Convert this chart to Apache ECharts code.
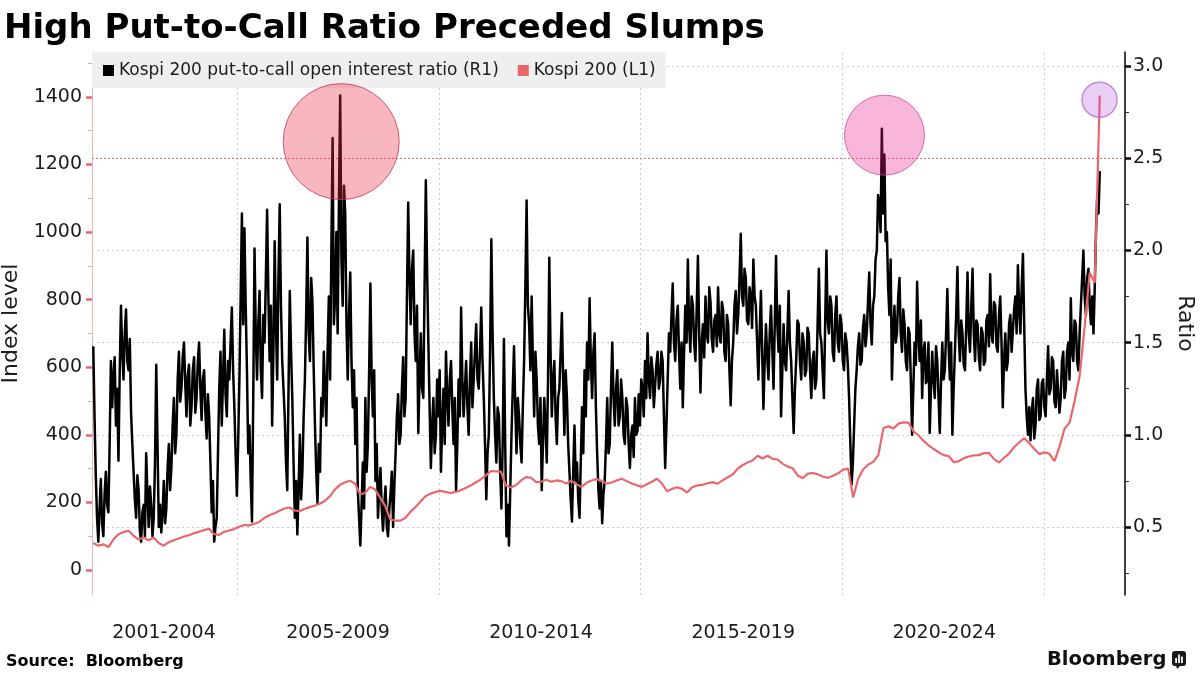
<!DOCTYPE html>
<html>
<head>
<meta charset="utf-8">
<title>High Put-to-Call Ratio Preceded Slumps</title>
<script src="https://cdn.jsdelivr.net/npm/echarts@6/dist/echarts.min.js"></script>
<style>
  html, body { margin: 0; padding: 0; background: #fff; }
  #chart { width: 1200px; height: 675px; }
</style>
</head>
<body>
<div id="chart"></div>
<script>
// Kospi 200 put-to-call ratio vs index level

const ratioName = 'Kospi 200 put-to-call open interest ratio (R1)';
const kospiName = 'Kospi 200 (L1)';

// x axis: period blocks (decimal years)
const periodLabels = ['2001-2004', '2005-2009', '2010-2014', '2015-2019', '2020-2024'];
const periodCenters = [2003.19, 2007.5, 2012.53, 2017.54, 2022.52];
const periodBreaks = [2005, 2010, 2015, 2020, 2025];

// y axes
const indexTicks = [0, 200, 400, 600, 800, 1000, 1200, 1400];
const indexMinorTicks = [100, 300, 500, 700, 900, 1100, 1300, 1500];
const ratioTicks = [0.5, 1.0, 1.5, 2.0, 2.5, 3.0];
const ratioMinorTicks = [0.25, 0.75, 1.25, 1.75, 2.25, 2.75];
const ratioGrid = [0.5, 1.0, 1.5, 2.0, 3.0];
const ratioAlert = 2.5;

// both series run evenly over this span
const seriesStart = 2001.4375;
const seriesEnd = 2026.375;

// put-to-call ratio, ~2 readings a week, by block
const ratio2001_2004 = [
  1.48, 1.10, 0.78, 0.55, 0.42, 0.60, 0.76, 0.52, 0.45, 0.68, 0.80, 0.62, 0.58, 0.95, 1.40, 1.15, 1.32, 1.42, 1.05, 1.25,
  0.86, 1.35, 1.70, 1.45, 1.30, 1.55, 1.68, 1.40, 1.35, 1.52, 1.12, 0.95, 0.80, 0.65, 0.55, 0.78, 0.70, 0.48, 0.42, 0.58,
  0.62, 0.45, 0.90, 0.68, 0.50, 0.72, 0.62, 0.45, 0.55, 0.85, 1.38, 0.95, 0.50, 0.62, 0.47, 0.58, 0.75, 0.52, 0.60, 0.82,
  0.95, 0.70, 0.82, 1.05, 1.20, 0.90, 1.00, 1.30, 1.45, 1.18, 1.25, 1.42, 1.50, 1.28, 1.10, 1.32, 1.38, 1.05, 1.15, 1.35,
  1.42, 1.12, 1.20, 1.40, 1.50, 1.25, 1.08, 1.30, 1.35, 1.12, 0.98, 1.22, 1.10, 0.85, 0.58, 0.75, 0.42, 0.50, 0.55, 0.90,
  1.25, 1.45, 1.05, 1.30, 1.57, 1.22, 1.10, 1.40, 1.30, 1.50, 1.69, 1.35, 1.15, 0.90
];
const ratio2005_2009 = [
  0.67, 0.95, 1.30, 1.75, 2.20, 1.60, 2.12, 1.70, 1.35, 0.90, 1.05, 0.75, 0.53, 1.20, 2.01, 1.55, 1.30, 1.60, 1.78, 1.35,
  1.20, 1.65, 1.50, 1.85, 2.22, 1.75, 1.40, 1.70, 1.05, 1.45, 2.05, 1.60, 1.30, 1.85, 2.25, 1.70, 1.40, 1.25, 1.10, 0.85,
  0.70, 1.25, 1.78, 1.45, 1.20, 0.85, 0.55, 0.75, 0.46, 0.72, 1.00, 0.65, 0.80, 1.10, 1.30, 1.65, 2.07, 1.55, 1.40, 1.85,
  1.72, 1.35, 1.05, 0.80, 0.63, 0.95, 0.80, 1.20, 1.10, 1.45, 1.25, 1.05, 1.45, 1.75, 1.30, 2.00, 2.61, 1.60, 1.75, 2.10,
  1.55, 2.25, 2.84, 1.95, 1.70, 2.35, 2.20, 1.60, 1.30, 1.65, 1.88, 1.40, 1.15, 1.35, 0.95, 1.20, 0.70, 0.55, 0.40, 0.62,
  0.85, 0.60, 1.20, 0.80, 0.95, 1.35, 1.82, 1.30, 1.10, 1.35, 0.75, 0.95, 0.55, 0.70, 0.82, 0.60, 0.48, 0.62, 0.72, 0.50,
  0.45, 0.60, 0.68, 0.80, 0.50, 0.72, 0.90, 1.10, 1.22, 0.95, 1.00, 1.25, 1.42, 1.10, 1.20, 1.75, 2.26, 1.85, 1.60, 1.90,
  2.00, 1.55, 1.40, 1.70, 1.01, 1.30, 1.55, 1.25, 1.20, 1.80, 2.38, 1.90, 1.50, 1.15, 0.82, 1.05, 1.20, 0.90, 1.00, 1.30
];
const ratio2010_2014 = [
  1.10, 1.35, 0.80, 1.05, 1.25, 0.95, 1.45, 1.20, 1.05, 1.30, 1.40, 1.15, 0.95, 1.20, 0.70, 0.95, 1.30, 1.10, 1.69, 1.30,
  1.10, 1.25, 1.40, 1.15, 1.00, 1.30, 1.50, 1.15, 1.30, 1.45, 1.60, 1.30, 1.25, 1.45, 1.69, 1.40, 1.20, 0.95, 0.65, 0.90,
  1.00, 1.45, 2.06, 1.55, 1.20, 1.00, 0.85, 1.15, 1.10, 0.80, 0.60, 0.95, 1.52, 0.95, 0.45, 0.62, 0.40, 0.70, 1.00, 1.25,
  1.48, 1.15, 0.90, 1.20, 1.10, 0.95, 0.85, 1.15, 1.40, 1.80, 2.27, 1.70, 1.60, 1.35, 1.75, 1.40, 1.10, 1.45, 1.30, 1.05,
  0.95, 1.20, 0.70, 0.95, 1.20, 1.05, 0.85, 1.30, 1.96, 1.45, 1.10, 1.30, 1.40, 1.10, 0.95, 1.20, 1.25, 1.45, 1.66, 1.30,
  1.00, 1.35, 1.20, 0.95, 0.80, 0.65, 0.53, 0.80, 1.05, 0.75, 0.85, 0.65, 0.55, 0.85, 1.15, 0.90, 1.35, 1.10, 1.50, 1.30,
  1.74, 1.40, 1.20, 1.45, 1.55, 1.15, 0.90, 0.70, 0.60, 0.75, 0.52, 0.68, 0.75, 0.95, 1.20, 0.90, 0.95, 1.25, 1.50, 1.20,
  1.05, 1.25, 1.35, 1.05, 1.10, 1.30, 1.20, 1.00, 0.95, 1.20, 1.15, 0.95, 0.82, 1.00, 1.05, 0.88, 1.20, 1.00, 1.02, 1.22
];
const ratio2015_2019 = [
  1.05, 1.30, 1.25, 1.10, 1.40, 1.20, 1.55, 1.30, 1.20, 1.42, 1.35, 1.15, 1.15, 1.38, 1.45, 1.25, 1.30, 1.45, 1.40, 1.10,
  0.82, 1.05, 1.30, 1.55, 1.45, 1.65, 1.82, 1.50, 1.40, 1.62, 1.70, 1.45, 1.25, 1.50, 1.15, 1.45, 1.70, 1.50, 1.95, 1.60,
  1.45, 1.75, 1.70, 1.50, 1.40, 1.68, 1.97, 1.55, 1.23, 1.50, 1.60, 1.42, 1.75, 1.55, 1.50, 1.80, 1.72, 1.52, 1.45, 1.62,
  1.65, 1.48, 1.80, 1.55, 1.50, 1.72, 1.68, 1.45, 1.40, 1.65, 1.60, 1.35, 1.16, 1.40, 1.50, 1.70, 1.78, 1.55, 1.65, 1.85,
  2.09, 1.75, 1.70, 1.90, 1.85, 1.62, 1.60, 1.80, 1.75, 1.58, 1.95, 1.75, 1.70, 1.50, 1.30, 1.55, 1.78, 1.45, 1.14, 1.40,
  1.60, 1.42, 1.30, 1.55, 1.70, 1.48, 1.25, 1.60, 1.97, 1.60, 1.45, 1.70, 1.10, 1.35, 1.60, 1.40, 1.35, 1.55, 1.78, 1.50,
  1.40, 1.20, 1.01, 1.25, 1.40, 1.62, 1.60, 1.40, 1.30, 1.55, 1.50, 1.32, 1.35, 1.58, 1.55, 1.35, 1.20, 1.40, 1.45, 1.25,
  1.30, 1.60, 1.90, 1.55, 1.50, 1.35, 1.20, 1.60, 2.00, 1.62, 1.55, 1.75, 1.70, 1.45, 1.40, 1.65, 1.75, 1.50, 1.45, 1.65
];
const ratio2020_2024 = [
  1.60, 1.40, 1.35, 1.55, 1.50, 1.38, 1.20, 0.95, 0.73, 0.85, 1.05, 1.25, 1.35, 1.48, 1.55, 1.38, 1.40, 1.58, 1.65, 1.48,
  1.55, 1.72, 1.88, 1.60, 1.49, 1.70, 1.75, 1.95, 2.00, 2.30, 2.25, 2.10, 2.66, 2.20, 2.52, 2.05, 2.10, 1.80, 1.65, 1.95,
  1.30, 1.55, 1.70, 1.50, 1.55, 1.75, 1.85, 1.55, 1.45, 1.68, 1.60, 1.40, 1.35, 1.58, 1.55, 1.30, 1.00, 1.25, 1.50, 1.38,
  1.83, 1.55, 1.40, 1.62, 1.20, 1.45, 1.50, 1.28, 1.30, 1.50, 1.01, 1.25, 1.45, 1.30, 1.20, 1.48, 1.40, 1.20, 1.01, 1.30,
  1.50, 1.30, 1.35, 1.55, 1.79, 1.48, 1.30, 1.50, 1.00, 1.25, 1.45, 1.65, 1.91, 1.55, 1.40, 1.62, 1.55, 1.38, 1.35, 1.60,
  1.88, 1.55, 1.45, 1.70, 1.90, 1.55, 1.40, 1.62, 1.60, 1.42, 1.35, 1.58, 1.55, 1.38, 1.40, 1.62, 1.65, 1.48, 1.87, 1.55,
  1.50, 1.72, 1.70, 1.48, 1.45, 1.65, 1.75, 1.50, 1.15, 1.40, 1.55, 1.35, 1.40, 1.60, 1.65, 1.45, 1.45, 1.68, 1.75, 1.55,
  1.92, 1.68, 1.55, 1.80, 1.98, 1.60, 1.25, 1.10, 1.00, 1.15, 0.97, 1.12, 1.20, 0.98, 1.05, 1.25, 1.30, 1.08, 1.10, 1.28
];
const ratio2025_2026 = [
  1.30, 1.15, 1.10, 1.30, 1.48, 1.22, 1.25, 1.42, 1.40, 1.18, 1.15, 1.35, 1.35, 1.12, 1.20, 1.40, 1.45, 1.20, 1.25, 1.45,
  1.50, 1.30, 1.74, 1.45, 1.40, 1.62, 1.60, 1.40, 1.35, 1.55, 1.70, 1.85, 2.00, 1.75, 1.65, 1.85, 1.90, 1.70, 1.60, 1.75,
  1.55, 1.80, 2.10, 2.30, 2.20, 2.43
];

// Kospi 200 index level, even samples over the same span
const kospi200 = [
  80, 72, 76, 68, 90, 106, 112, 116, 102, 90,
  96, 88, 96, 80, 72, 82, 88, 93, 99, 103,
  109, 113, 118, 122, 106, 104, 113, 117, 121, 128,
  133, 132, 137, 142, 154, 162, 168, 175, 182, 185,
  176, 174, 181, 186, 190, 196, 204, 218, 238, 252,
  259, 264, 256, 224, 228, 246, 238, 214, 190, 150,
  146, 146, 154, 172, 186, 202, 218, 226, 231, 234,
  231, 228, 231, 236, 243, 250, 259, 268, 280, 293,
  292, 291, 250, 244, 251, 265, 275, 273, 260, 261,
  267, 261, 265, 263, 256, 264, 254, 246, 258, 265,
  269, 263, 256, 259, 265, 270, 263, 256, 251, 246,
  254, 261, 270, 256, 233, 240, 245, 240, 229, 245,
  250, 252, 256, 260, 255, 265, 274, 282, 299, 310,
  318, 324, 338, 330, 338, 329, 327, 314, 306, 301,
  279, 272, 285, 287, 283, 276, 273, 279, 286, 297,
  300, 215, 270, 298, 312, 320, 340, 420, 425, 419,
  433, 437, 436, 410, 398, 382, 369, 358, 348, 340,
  337, 319, 322, 331, 336, 339, 340, 346, 346, 328,
  318, 332, 345, 364, 378, 390, 375, 358, 343, 348,
  344, 322, 365, 418, 436, 500, 575, 720, 880, 850,
  1404
];

// highlighted ratio spikes (year, ratio)
const highlightPeaks = [[2007.58, 2.59], [2021.04, 2.625], [2026.37, 2.817]];

const FONT = 'DejaVu Sans';
const RED = '#e8676d';
const INK = '#1c1c1c';

// place values evenly between t0 and t1
function spread(values, t0, t1) {
  const step = (t1 - t0) / (values.length - 1);
  return values.map((v, i) => [t0 + i * step, v]);
}

const ratioAll = [].concat(ratio2001_2004, ratio2005_2009, ratio2010_2014,
  ratio2015_2019, ratio2020_2024, ratio2025_2026);
const ratioPoints = spread(ratioAll, seriesStart, seriesEnd);
const kospiPoints = spread(kospi200, seriesStart, seriesEnd);

const peakSizes = [116, 80, 35];
const peakStyles = [
  { color: 'rgba(235, 40, 62, 0.42)', borderColor: '#c23a55', borderWidth: 1 },
  { color: 'rgba(232, 30, 140, 0.40)', borderColor: '#cf4a96', borderWidth: 1 },
  { color: 'rgba(170, 60, 220, 0.30)', borderColor: '#b27ad6', borderWidth: 1.5 }
];

function periodLabel(v) {
  let best = 0;
  periodCenters.forEach((c, i) => {
    if (Math.abs(c - v) < Math.abs(periodCenters[best] - v)) best = i;
  });
  return periodLabels[best];
}

const gridLines = ratioGrid.map(v => ({ yAxis: v }))
  .concat(periodBreaks.map(v => ({ xAxis: v })))
  .concat([{ yAxis: ratioAlert, lineStyle: { color: RED, type: [2, 2] } }]);

const chart = echarts.init(document.getElementById('chart'));

const option = {
  animation: false,
  backgroundColor: '#fff',
  textStyle: { fontFamily: FONT },
  title: [
    {
      text: 'High Put-to-Call Ratio Preceded Slumps',
      left: 4, top: 12, padding: 0,
      textStyle: { fontFamily: FONT, fontSize: 34, fontWeight: 'bold', color: '#000' }
    },
    {
      text: 'Source:  Bloomberg',
      left: 6, top: 654, padding: 0,
      textStyle: { fontFamily: FONT, fontSize: 16, fontWeight: 'bold', color: '#000' }
    },
    {
      text: 'Bloomberg',
      left: 1047, top: 650, padding: 0,
      textStyle: { fontFamily: FONT, fontSize: 19.5, fontWeight: 'bold', color: '#111' }
    }
  ],
  legend: {
    left: 92, top: 52,
    padding: [10, 10, 9, 11],
    backgroundColor: '#efefef',
    itemWidth: 11, itemHeight: 11, itemGap: 19,
    icon: 'rect',
    selectedMode: false,
    textStyle: { fontFamily: FONT, fontSize: 17, color: INK },
    data: [
      { name: ratioName, itemStyle: { color: '#000' } },
      { name: kospiName, itemStyle: { color: RED } }
    ]
  },
  grid: { left: 92, right: 75, top: 52, bottom: 80, outerBoundsMode: 'none' },
  xAxis: {
    type: 'value', min: 2001.406, max: 2027.0,
    axisLine: { show: false },
    axisTick: { show: false },
    splitLine: { show: false },
    axisLabel: {
      customValues: periodCenters,
      formatter: periodLabel,
      fontFamily: FONT, fontSize: 19, color: INK, margin: 29
    }
  },
  yAxis: [
    {
      type: 'value', min: -74, max: 1533, position: 'left',
      name: 'Index level', nameLocation: 'middle', nameGap: 62,
      nameTextStyle: { fontFamily: FONT, fontSize: 22, color: INK },
      axisLine: { show: true, lineStyle: { color: '#f2b3b6', width: 1 } },
      axisTick: { show: true, customValues: indexTicks, length: 6, lineStyle: { color: RED, width: 2.5 } },
      axisLabel: {
        customValues: indexTicks, formatter: v => String(v),
        fontFamily: FONT, fontSize: 19, color: INK, margin: 10
      },
      splitLine: { show: false }
    },
    {
      type: 'value', min: 0.1312, max: 3.0759, position: 'right',
      name: 'Ratio', nameLocation: 'middle', nameRotate: -90, nameGap: 46,
      nameTextStyle: { fontFamily: FONT, fontSize: 22, color: INK },
      axisLine: { show: true, lineStyle: { color: '#000', width: 1.5 } },
      axisTick: { show: true, customValues: ratioTicks, length: 6, lineStyle: { color: '#000', width: 2.5 } },
      axisLabel: {
        customValues: ratioTicks, formatter: v => v.toFixed(1),
        fontFamily: FONT, fontSize: 19, color: INK, margin: 8
      },
      splitLine: { show: false }
    },
    {
      // minor ticks, left
      type: 'value', min: -74, max: 1533, position: 'left',
      axisLine: { show: false },
      axisTick: { show: true, customValues: indexMinorTicks, length: 4, lineStyle: { color: '#c9b5b6', width: 1 } },
      axisLabel: { show: false },
      splitLine: { show: false }
    },
    {
      // minor ticks, right
      type: 'value', min: 0.1312, max: 3.0759, position: 'right',
      axisLine: { show: false },
      axisTick: { show: true, customValues: ratioMinorTicks, length: 4, lineStyle: { color: '#333', width: 1 } },
      axisLabel: { show: false },
      splitLine: { show: false }
    }
  ],
  series: [
    {
      name: ratioName,
      type: 'line',
      xAxisIndex: 0, yAxisIndex: 1,
      data: ratioPoints,
      showSymbol: false, symbol: 'none',
      sampling: null,
      lineStyle: { color: '#000', width: 2.5, join: 'round' },
      itemStyle: { color: '#000' },
      emphasis: { disabled: true },
      z: 2,
      markLine: {
        silent: true, symbol: 'none', z: 1,
        label: { show: false },
        emphasis: { disabled: true },
        lineStyle: { color: '#cccccc', type: [2, 3], width: 1 },
        data: gridLines
      }
    },
    {
      name: kospiName,
      type: 'line',
      xAxisIndex: 0, yAxisIndex: 0,
      data: kospiPoints,
      showSymbol: false, symbol: 'none',
      lineStyle: { color: RED, width: 2.2 },
      itemStyle: { color: RED },
      emphasis: { disabled: true },
      z: 3
    },
    {
      name: 'peaks',
      type: 'scatter',
      xAxisIndex: 0, yAxisIndex: 1,
      silent: true,
      z: 4,
      data: highlightPeaks.map((p, i) => ({
        value: p,
        symbolSize: peakSizes[i],
        itemStyle: peakStyles[i]
      }))
    }
  ],
  graphic: [
    {
      // little Bloomberg chart badge
      type: 'group', left: 1172, top: 651,
      children: [
        { type: 'rect', shape: { x: 0, y: 0, width: 14, height: 15, r: 3 }, style: { fill: '#1a1a1a' } },
        { type: 'polygon', shape: { points: [[4, 14], [9, 14], [5, 18]] }, style: { fill: '#1a1a1a' } },
        { type: 'rect', shape: { x: 3.2, y: 7, width: 1.8, height: 5 }, style: { fill: '#fff' } },
        { type: 'rect', shape: { x: 6.1, y: 3.5, width: 1.8, height: 8.5 }, style: { fill: '#fff' } },
        { type: 'rect', shape: { x: 9.0, y: 5.5, width: 1.8, height: 6.5 }, style: { fill: '#fff' } }
      ]
    }
  ]
};

chart.setOption(option);
</script>
</body>
</html>
